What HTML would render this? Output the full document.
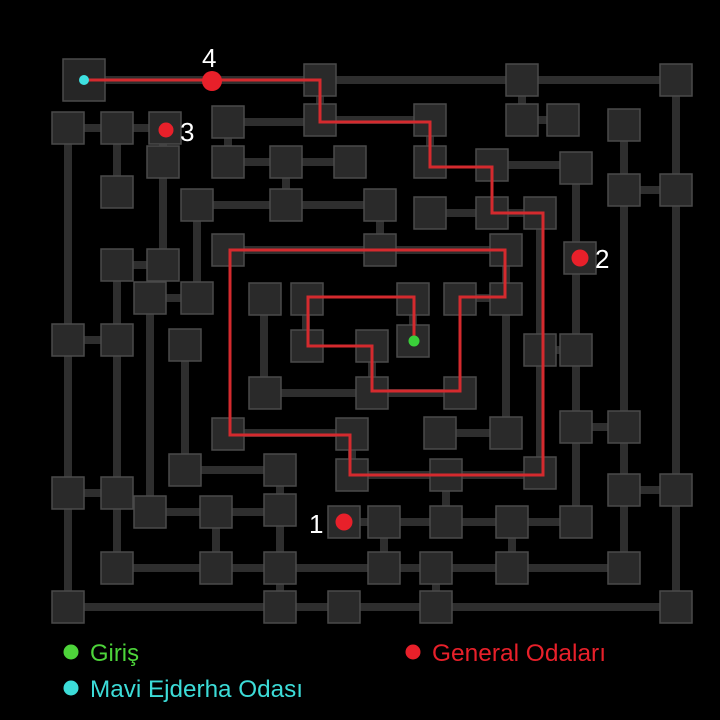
<!DOCTYPE html>
<html><head><meta charset="utf-8"><style>
html,body{margin:0;padding:0;background:#000;}
svg{display:block}
</style></head><body>
<svg width="720" height="720" viewBox="0 0 720 720" xmlns="http://www.w3.org/2000/svg">
<rect width="720" height="720" fill="#000"/>
<g stroke="#2e2e2e" stroke-width="8" fill="none">
<path d="M84 80H676M68 128V607M676 80V607M68 607H676"/>
<path d="M68 128H165M117 128V192M163 128V265M228 122H320M228 122V162M228 162H286M286 162V205M197 205H380M350 162H286"/>
<path d="M320 80V120H430M522 80V120H563M430 120V162M624 125V568M576 168V520M624 190H676M492 165H576"/>
<path d="M117 265H163M117 265V568M150 298H197M150 298V512M197 205V298M264 298V393H372M306 298V345M372 345V393H460M413 298V340M460 298H506M506 250V433M380 205V250M228 250H506"/>
<path d="M68 340H117M185 345V470H280M540 350H576M440 433H506M576 427H624M228 433H352V475H540M446 475V522"/>
<path d="M68 493H117M624 490H676M150 512H280M216 512V568M280 470V607M344 522H576M384 522V568M512 522V568M117 568H624M436 568V607"/>
<path d="M540 213V473M430 213H540"/>
</g>
<g fill="#262626" stroke="#4a4a4a" stroke-width="1.5">
<rect x="63" y="59" width="42" height="42"/>
</g>
<g fill="#2a2a2a" stroke="#4a4a4a" stroke-width="1.5">
<rect x="304" y="64" width="32" height="32"/><rect x="506" y="64" width="32" height="32"/><rect x="660" y="64" width="32" height="32"/>
<rect x="52" y="112" width="32" height="32"/><rect x="101" y="112" width="32" height="32"/><rect x="149" y="112" width="32" height="32"/><rect x="212" y="106" width="32" height="32"/><rect x="304" y="104" width="32" height="32"/><rect x="414" y="104" width="32" height="32"/><rect x="506" y="104" width="32" height="32"/><rect x="547" y="104" width="32" height="32"/><rect x="608" y="109" width="32" height="32"/>
<rect x="147" y="146" width="32" height="32"/><rect x="212" y="146" width="32" height="32"/><rect x="270" y="146" width="32" height="32"/><rect x="334" y="146" width="32" height="32"/><rect x="414" y="146" width="32" height="32"/><rect x="476" y="149" width="32" height="32"/><rect x="560" y="152" width="32" height="32"/>
<rect x="101" y="176" width="32" height="32"/><rect x="608" y="174" width="32" height="32"/><rect x="660" y="174" width="32" height="32"/>
<rect x="181" y="189" width="32" height="32"/><rect x="270" y="189" width="32" height="32"/><rect x="364" y="189" width="32" height="32"/><rect x="414" y="197" width="32" height="32"/><rect x="476" y="197" width="32" height="32"/><rect x="524" y="197" width="32" height="32"/>
<rect x="212" y="234" width="32" height="32"/><rect x="364" y="234" width="32" height="32"/><rect x="490" y="234" width="32" height="32"/><rect x="564" y="242" width="32" height="32"/>
<rect x="101" y="249" width="32" height="32"/><rect x="147" y="249" width="32" height="32"/>
<rect x="134" y="282" width="32" height="32"/><rect x="181" y="282" width="32" height="32"/><rect x="249" y="283" width="32" height="32"/><rect x="291" y="283" width="32" height="32"/><rect x="397" y="283" width="32" height="32"/><rect x="444" y="283" width="32" height="32"/><rect x="490" y="283" width="32" height="32"/>
<rect x="52" y="324" width="32" height="32"/><rect x="101" y="324" width="32" height="32"/><rect x="169" y="329" width="32" height="32"/><rect x="291" y="330" width="32" height="32"/><rect x="356" y="330" width="32" height="32"/><rect x="397" y="325" width="32" height="32"/><rect x="524" y="334" width="32" height="32"/><rect x="560" y="334" width="32" height="32"/>
<rect x="249" y="377" width="32" height="32"/><rect x="356" y="377" width="32" height="32"/><rect x="444" y="377" width="32" height="32"/>
<rect x="212" y="418" width="32" height="32"/><rect x="336" y="418" width="32" height="32"/><rect x="424" y="417" width="32" height="32"/><rect x="490" y="417" width="32" height="32"/><rect x="560" y="411" width="32" height="32"/><rect x="608" y="411" width="32" height="32"/>
<rect x="169" y="454" width="32" height="32"/><rect x="264" y="454" width="32" height="32"/><rect x="336" y="459" width="32" height="32"/><rect x="430" y="459" width="32" height="32"/><rect x="524" y="457" width="32" height="32"/>
<rect x="52" y="477" width="32" height="32"/><rect x="101" y="477" width="32" height="32"/><rect x="608" y="474" width="32" height="32"/><rect x="660" y="474" width="32" height="32"/>
<rect x="134" y="496" width="32" height="32"/><rect x="200" y="496" width="32" height="32"/><rect x="264" y="494" width="32" height="32"/><rect x="328" y="506" width="32" height="32"/><rect x="368" y="506" width="32" height="32"/><rect x="430" y="506" width="32" height="32"/><rect x="496" y="506" width="32" height="32"/><rect x="560" y="506" width="32" height="32"/>
<rect x="101" y="552" width="32" height="32"/><rect x="200" y="552" width="32" height="32"/><rect x="264" y="552" width="32" height="32"/><rect x="368" y="552" width="32" height="32"/><rect x="420" y="552" width="32" height="32"/><rect x="496" y="552" width="32" height="32"/><rect x="608" y="552" width="32" height="32"/>
<rect x="52" y="591" width="32" height="32"/><rect x="264" y="591" width="32" height="32"/><rect x="328" y="591" width="32" height="32"/><rect x="420" y="591" width="32" height="32"/><rect x="660" y="591" width="32" height="32"/>
</g>
<path d="M84 80H320V122H430V167H492V213H543V475H350V435H230V250H505V297H460V391H372V346H308V297H414V340" fill="none" stroke="#d42a2e" stroke-width="3"/>
<circle cx="84" cy="80" r="5" fill="#3ee0e0"/>
<circle cx="414" cy="341" r="5.5" fill="#3ad03a"/>
<circle cx="212" cy="81" r="10" fill="#e8202a"/>
<circle cx="166" cy="130" r="7.5" fill="#e8202a"/>
<circle cx="580" cy="258" r="8.5" fill="#e8202a"/>
<circle cx="344" cy="522" r="8.5" fill="#e8202a"/>
<g fill="#fff" font-family="Liberation Sans, sans-serif" font-size="26">
<text x="202" y="67">4</text><text x="180" y="141">3</text><text x="595" y="268">2</text><text x="309" y="533">1</text>
</g>
<circle cx="71" cy="652" r="7.5" fill="#4dd43a"/>
<circle cx="71" cy="688" r="7.5" fill="#3cdcd8"/>
<circle cx="413" cy="652" r="7.5" fill="#e8202a"/>
<g font-family="Liberation Sans, sans-serif" font-size="24">
<text x="90" y="661" fill="#4dd43a" textLength="49" lengthAdjust="spacingAndGlyphs">Giriş</text>
<text x="90" y="697" fill="#3cdcd8" textLength="213" lengthAdjust="spacingAndGlyphs">Mavi Ejderha Odası</text>
<text x="432" y="661" fill="#e8202a" textLength="174" lengthAdjust="spacingAndGlyphs">General Odaları</text>
</g>
</svg>
</body></html>
